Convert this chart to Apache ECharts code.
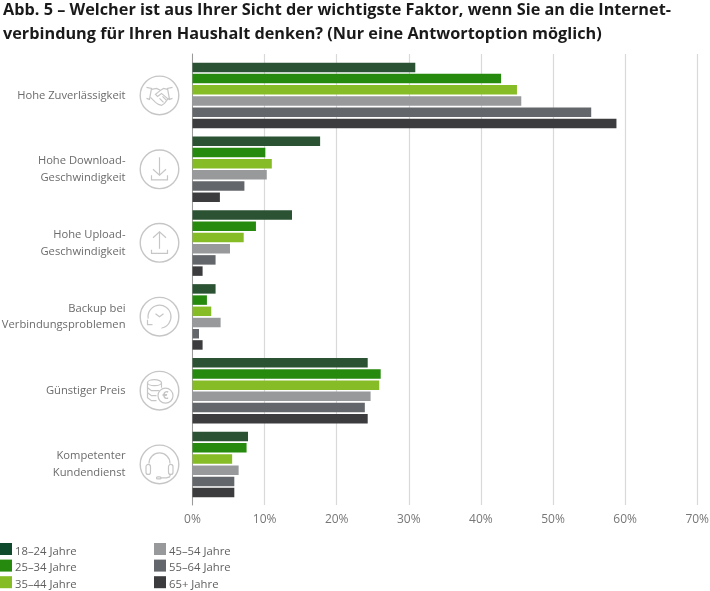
<!DOCTYPE html>
<html>
<head>
<meta charset="utf-8">
<style>
  html, body { margin: 0; padding: 0; background: #fff; }
  #chart { width: 710px; height: 591px; }
</style>
<script src="https://cdn.jsdelivr.net/npm/echarts@6/dist/echarts.min.js"></script>
</head>
<body>
<div id="chart"></div>
<script>
const titleLines = [
  "Abb. 5 – Welcher ist aus Ihrer Sicht der wichtigste Faktor, wenn Sie an die Internet-",
  "verbindung für Ihren Haushalt denken? (Nur eine Antwortoption möglich)",
];
const categories = [
  "Hohe Zuverlässigkeit",
  "Hohe Download-\nGeschwindigkeit",
  "Hohe Upload-\nGeschwindigkeit",
  "Backup bei\nVerbindungsproblemen",
  "Günstiger Preis",
  "Kompetenter\nKundendienst",
];
const ageGroups = ["18–24 Jahre", "25–34 Jahre", "35–44 Jahre", "45–54 Jahre", "55–64 Jahre", "65+ Jahre"];
const age18to24 = [30.9, 17.7, 13.8, 3.2, 24.3, 7.7];
const age25to34 = [42.8, 10.1, 8.8, 2.0, 26.1, 7.5];
const age35to44 = [45.0, 11.0, 7.1, 2.6, 25.9, 5.5];
const age45to54 = [45.6, 10.3, 5.2, 3.9, 24.7, 6.4];
const age55to64 = [55.3, 7.2, 3.2, 0.9, 23.9, 5.8];
const age65plus = [58.8, 3.8, 1.4, 1.4, 24.3, 5.8];
const ageValues = [age18to24, age25to34, age35to44, age45to54, age55to64, age65plus];
const barColors = ["#2b5233", "#268a0e", "#86bc25", "#97999b", "#63666a", "#3c3c3e"];
const legendColors = ["#0f4a2c", "#268a0e", "#86bc25", "#97999b", "#63666a", "#3c3c3e"];

const font = "'Open Sans'";
const iconColor = "#c6c6c6";
const plotLeft = 192.5;
const plotWidth = 504.7;

// icon pieces, coordinates relative to the circle centre
function line(points) {
  return { type: "polyline", shape: { points }, style: { stroke: iconColor, fill: null, lineWidth: 1.2 } };
}
function arc(cx, cy, r, from, to) {
  return {
    type: "arc",
    shape: { cx, cy, r, startAngle: (from * Math.PI) / 180, endAngle: (to * Math.PI) / 180, clockwise: true },
    style: { stroke: iconColor, fill: null, lineWidth: 1.2 },
  };
}
function roundBox(x, y, width, height) {
  return { type: "rect", shape: { x, y, width, height, r: 2.5 }, style: { stroke: iconColor, fill: null, lineWidth: 1.2 } };
}
function oval(cx, cy, rx, ry) {
  return { type: "ellipse", shape: { cx, cy, rx, ry }, style: { stroke: iconColor, fill: "#fff", lineWidth: 1.2 } };
}

const icons = [
  [
    line([[-13, -8], [-8, -7], [-10, 4], [-13, 3]]),
    line([[13, -8], [8, -7], [10, 4], [13, 3]]),
    line([[-8, -6], [-3, -7], [1, -5], [4, -7], [8, -6]]),
    line([[-9, 2], [-4, 7], [-1, 9], [2, 10], [5, 8], [8, 4], [10, 3]]),
    line([[1, -5], [-4, -1], [-2, 1], [2, -2], [9, 4]]),
    line([[0, 3], [4, 7]]),
    line([[3, 1], [7, 5]]),
  ],
  [
    line([[0, -12], [0, 6]]),
    line([[-6.5, 0], [0, 6], [6.5, 0]]),
    line([[-8, 6], [-8, 10.5], [8, 10.5], [8, 6]]),
  ],
  [
    line([[0, 6], [0, -11]]),
    line([[-6.5, -5], [0, -11], [6.5, -5]]),
    line([[-8, 7], [-8, 10.5], [8, 10.5], [8, 7]]),
  ],
  [
    arc(0, 0, 11.5, 170, 80),
    line([[-12, 3], [-12, 8], [-7, 8]]),
    line([[-4, -3], [0, 0], [4, -3]]),
  ],
  [
    line([[-12, -8], [-12, 7], [-8, 10], [-3, 10]]),
    line([[-12, -3], [-8, 0], [0, 0]]),
    line([[-12, 2], [-8, 5], [-3, 5]]),
    oval(-5, -8, 7, 3),
    line([[2, -8], [2, -3]]),
    { type: "circle", shape: { cx: 6, cy: 5, r: 7.5 }, style: { stroke: iconColor, fill: "#fff", lineWidth: 1.2 } },
    {
      type: "text",
      style: { text: "€", x: 6, y: 5, align: "center", verticalAlign: "middle", fill: iconColor, font: "bold 11px " + font },
    },
  ],
  [
    arc(0, -1, 10.5, 180, 360),
    roundBox(-13.5, 0, 4.5, 10),
    roundBox(9, 0, 4.5, 10),
    line([[11, 10], [10, 12.5], [7, 13.5], [1, 13.5]]),
    roundBox(-3, 12.5, 4.5, 2),
  ],
];

const iconRows = [95.4, 169.3, 242.8, 316.7, 390.7, 464.4];
const iconGraphics = icons.map((children, i) => ({
  type: "group",
  x: 159.5,
  y: iconRows[i],
  silent: true,
  children: [
    { type: "circle", shape: { cx: 0, cy: 0, r: 19.3 }, style: { stroke: iconColor, fill: null, lineWidth: 1.4 } },
    ...children,
  ],
}));

function legendPart(left, from, to) {
  return {
    orient: "vertical",
    left,
    top: 543,
    padding: 0,
    itemWidth: 12,
    itemHeight: 12,
    itemGap: 2.6,
    selectedMode: false,
    icon: "rect",
    formatter: "{t|{name}}",
    textStyle: {
      rich: {
        t: { fontFamily: font, fontSize: 11.3, color: "#5f5f5f", padding: [5, 0, 0, -2] },
      },
    },
    data: ageGroups.slice(from, to).map((name, i) => ({
      name,
      itemStyle: { color: legendColors[from + i] },
    })),
  };
}

const myChart = echarts.init(document.getElementById("chart"), null, { renderer: "canvas" });
myChart.setOption({
  animation: false,
  backgroundColor: "#fff",
  title: {
    text: titleLines.join("\n"),
    left: 3,
    top: -2,
    padding: 0,
    textStyle: { fontFamily: font, fontSize: 16.25, fontWeight: 700, lineHeight: 24, color: "#1a1a1a" },
  },
  legend: [legendPart(0, 0, 3), legendPart(154, 3, 6)],
  // outer grid carries the taller axis line and gridlines, inner grid the bars
  grid: [
    { left: plotLeft, width: plotWidth, top: 54, height: 451, outerBoundsMode: "none" },
    { left: plotLeft, width: plotWidth, top: 58.5, height: 443, outerBoundsMode: "none" },
  ],
  xAxis: [
    {
      gridIndex: 0,
      type: "value",
      min: 0,
      max: 70,
      interval: 10,
      axisLine: { show: false },
      axisTick: { show: false },
      axisLabel: { formatter: "{value}%", margin: 9, fontFamily: font, fontSize: 12, color: "#777" },
      splitLine: { lineStyle: { color: "#d9d9d9", width: 1.2 } },
    },
    { gridIndex: 1, type: "value", min: 0, max: 70, show: false },
  ],
  yAxis: [
    {
      gridIndex: 0,
      type: "value",
      min: 0,
      max: 1,
      axisLine: { show: true, lineStyle: { color: "#9a9a9a", width: 1 } },
      axisTick: { show: false },
      axisLabel: { show: false },
      splitLine: { show: false },
    },
    {
      gridIndex: 1,
      type: "category",
      inverse: true,
      data: categories,
      axisLine: { show: false },
      axisTick: { show: false },
      axisLabel: { margin: 67, fontFamily: font, fontSize: 11.2, lineHeight: 16.7, color: "#6b6b6b", align: "right" },
    },
  ],
  series: ageGroups.map((name, i) => ({
    name,
    type: "bar",
    xAxisIndex: 1,
    yAxisIndex: 1,
    data: ageValues[i],
    barWidth: 9.5,
    barGap: "18%",
    itemStyle: { color: barColors[i] },
  })),
  graphic: { elements: iconGraphics },
});
</script>
</body>
</html>
